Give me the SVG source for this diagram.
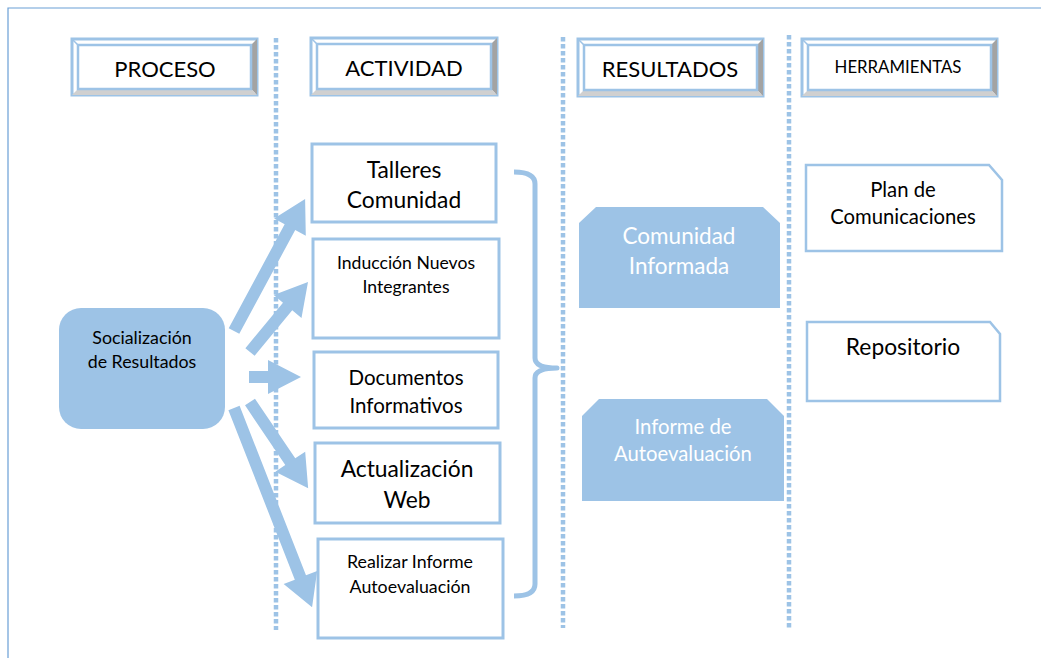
<svg xmlns="http://www.w3.org/2000/svg" width="1041" height="658" viewBox="0 0 1041 658">
<style>
text{font-family:Lato,"Liberation Sans",sans-serif;fill:#000;text-anchor:middle}
.frame{fill:#fff;stroke:#9dc3e6;stroke-width:3}
.bevR{fill:#a3a3a3}
.bevB{fill:#d0d0d0}
.inner{fill:#fff;stroke:#9dc3e6;stroke-width:2.5}
.diag{stroke:#9dc3e6;stroke-width:1.5}
.dots{stroke:#9dc3e6;stroke-width:4.5;stroke-dasharray:4.5 2.5;fill:none}
.act{fill:#fff;stroke:#9dc3e6;stroke-width:3}
.res{fill:#9dc3e6}
.res text{fill:#fff}
.tool{fill:#fff;stroke:#9dc3e6;stroke-width:2.5}
.arrow{fill:#9dc3e6}
</style>
<g id="border" fill="none" stroke="#6a9fd6" stroke-width="1.2">
<path d="M8,658 L8,8 L1041,8"/>
</g>
<g id="lanes">
<line class="dots" x1="276" y1="38" x2="276" y2="630"/>
<line class="dots" x1="563" y1="37" x2="563" y2="628"/>
<line class="dots" x1="789" y1="35" x2="789" y2="628"/>
</g>
<g id="h-proceso">
<rect class="frame" x="72" y="39" width="185" height="56"/>
<polygon class="bevR" points="257,39 257,95 251,89 251,45"/>
<polygon class="bevB" points="72,95 257,95 251,89 78,89"/>
<line class="diag" x1="72" y1="39" x2="78" y2="45"/>
<rect class="inner" x="78" y="45" width="173" height="44"/>
<text x="165" y="77" font-size="22">PROCESO</text>
</g>
<g id="h-actividad">
<rect class="frame" x="311" y="38" width="186" height="57"/>
<polygon class="bevR" points="497,38 497,95 491,89 491,44"/>
<polygon class="bevB" points="311,95 497,95 491,89 317,89"/>
<line class="diag" x1="311" y1="38" x2="317" y2="44"/>
<rect class="inner" x="317" y="44" width="174" height="45"/>
<text x="404" y="76" font-size="22">ACTIVIDAD</text>
</g>
<g id="h-resultados">
<rect class="frame" x="578" y="39" width="185" height="57"/>
<polygon class="bevR" points="763,39 763,96 757,90 757,45"/>
<polygon class="bevB" points="578,96 763,96 757,90 584,90"/>
<line class="diag" x1="578" y1="39" x2="584" y2="45"/>
<rect class="inner" x="584" y="45" width="173" height="45"/>
<text x="670" y="77" font-size="22">RESULTADOS</text>
</g>
<g id="h-herramientas">
<rect class="frame" x="802" y="39" width="195" height="57"/>
<polygon class="bevR" points="997,39 997,96 991,90 991,45"/>
<polygon class="bevB" points="802,96 997,96 991,90 808,90"/>
<line class="diag" x1="802" y1="39" x2="808" y2="45"/>
<rect class="inner" x="808" y="45" width="183" height="45"/>
<text x="898" y="73" font-size="16.8">HERRAMIENTAS</text>
</g>
<g id="socializacion">
<rect x="59" y="308" width="166" height="121" rx="22" fill="#9dc3e6"/>
<text x="142" y="344" font-size="17.8">Socialización</text>
<text x="142" y="368" font-size="17.8">de Resultados</text>
</g>
<g id="talleres">
<rect class="act" x="312" y="144" width="184" height="78"/>
<text x="404" y="178" font-size="22.8">Talleres</text>
<text x="404" y="208" font-size="22.8">Comunidad</text>
</g>
<g id="induccion">
<rect class="act" x="313" y="239" width="186" height="99"/>
<text x="406" y="269" font-size="17.6">Inducción Nuevos</text>
<text x="406" y="293" font-size="17.6">Integrantes</text>
</g>
<g id="documentos">
<rect class="act" x="314" y="352" width="184" height="76"/>
<text x="406" y="385" font-size="20.5">Documentos</text>
<text x="406" y="413" font-size="20.5">Informativos</text>
</g>
<g id="actualizacion">
<rect class="act" x="315" y="443" width="185" height="80"/>
<text x="407" y="477" font-size="22.8">Actualización</text>
<text x="407" y="508" font-size="22.8">Web</text>
</g>
<g id="realizar">
<rect class="act" x="318" y="539" width="185" height="99"/>
<text x="410" y="568" font-size="17.8">Realizar Informe</text>
<text x="410" y="593" font-size="17.8">Autoevaluación</text>
</g>
<g id="comunidad-informada" class="res">
<polygon points="579,223 596,207 763,207 780,223 780,308 579,308"/>
<text x="679" y="244" font-size="22.5">Comunidad</text>
<text x="679" y="274" font-size="22.5">Informada</text>
</g>
<g id="informe-autoevaluacion" class="res">
<polygon points="582,416 599,399 767,399 784,416 784,501 582,501"/>
<text x="683" y="434" font-size="20.3">Informe de</text>
<text x="683" y="461" font-size="20.3">Autoevaluación</text>
</g>
<g id="plan">
<polygon class="tool" points="806,165 989,165 1002,180 1002,251 806,251"/>
<text x="903" y="197" font-size="20.3">Plan de</text>
<text x="903" y="224" font-size="20.3">Comunicaciones</text>
</g>
<g id="repositorio">
<polygon class="tool" points="807,322 990,322 1000,334 1000,401 807,401"/>
<text x="903" y="355" font-size="22.8">Repositorio</text>
</g>
<g id="connectors">
<polygon class="arrow" transform="translate(234,331) rotate(-61.7)" points="0,-6 118,-6 118,-18 150,0 118,18 118,6 0,6"/>
<polygon class="arrow" transform="translate(250,352) rotate(-50.4)" points="0,-6 59,-6 59,-18 91,0 59,18 59,6 0,6"/>
<polygon class="arrow" transform="translate(249,377)" points="0,-6 19,-6 19,-17 52,0 19,17 19,6 0,6"/>
<polygon class="arrow" transform="translate(250,402) rotate(56)" points="0,-6 72,-6 72,-18 104,0 72,18 72,6 0,6"/>
<polygon class="arrow" transform="translate(234,408) rotate(68.6)" points="0,-6 182,-6 182,-18 214,0 182,18 182,6 0,6"/>
<path d="M514,172 Q535,172 535,184 L535,358 Q535,368 557,368 Q535,368 535,378 L535,584 Q535,596 514,596" fill="none" stroke="#9dc3e6" stroke-width="5" stroke-linejoin="round"/>
</g>
</svg>
